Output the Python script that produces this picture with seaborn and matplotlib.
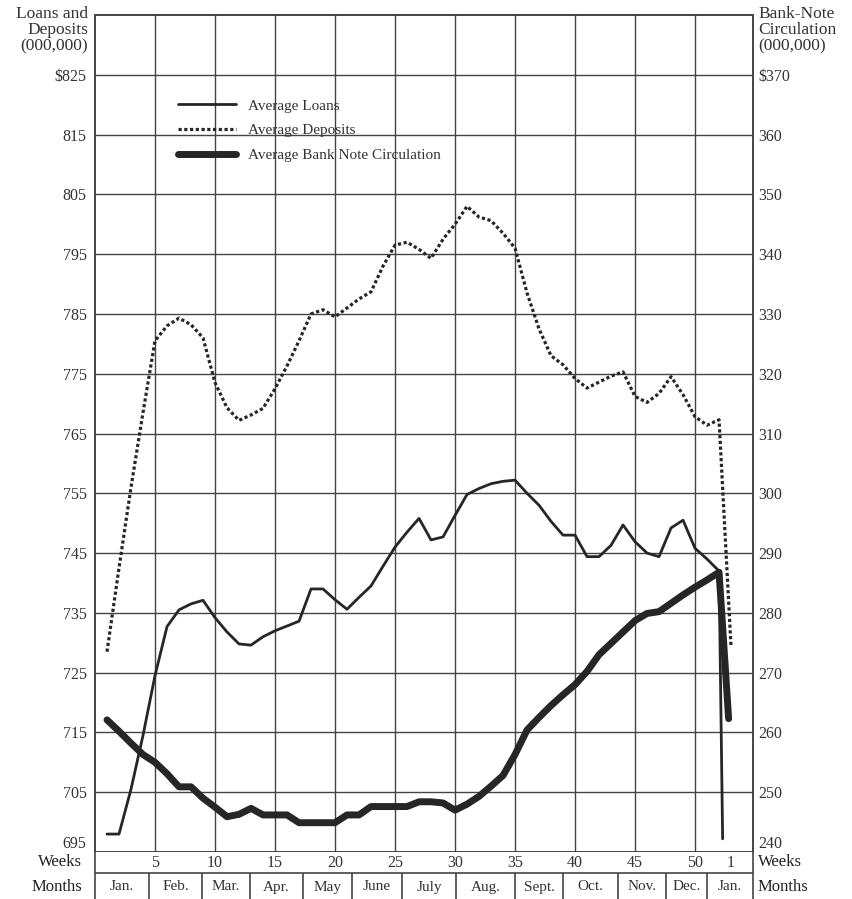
import matplotlib
matplotlib.use("Agg")
import matplotlib.pyplot as plt
import matplotlib.transforms as mtransforms
import pandas as pd
import seaborn as sns

# weekly averages, week 1 .. 52
weeks = list(range(1, 53))

loans = [698, 698, 705.5, 714.5, 724.5, 732.7, 735.5, 736.5, 737.1, 734.2,
         731.8, 729.8, 729.6, 731, 732, 732.8, 733.6, 739, 739, 737.2,
         735.6, 737.6, 739.5, 742.8, 746, 748.5, 750.8, 747.2, 747.7, 751.3,
         754.8, 755.8, 756.6, 757, 757.2, 755, 753, 750.3, 748, 748,
         744.4, 744.4, 746.3, 749.7, 746.9, 745, 744.4, 749.2, 750.5, 745.8,
         744, 742]

deposits = [728.5, 742.5, 756, 768.5, 780.5, 783, 784.3, 783.2, 781, 773.5,
            769.3, 767.2, 768.1, 769.2, 772.5, 776.3, 780.5, 785, 785.7, 784.5,
            786, 787.5, 788.7, 793, 796.5, 797, 795.8, 794.3, 797.5, 800,
            803, 801.2, 800.6, 798.5, 796, 788.5, 782.5, 778, 776.5, 774.2,
            772.6, 773.6, 774.6, 775.3, 771.2, 770.2, 771.7, 774.5, 771.5, 767.8,
            766.4, 767.3]

bank_notes = [262.1, 260.2, 258.2, 256.3, 255, 253.1, 250.9, 250.9, 249, 247.5,
              245.9, 246.3, 247.3, 246.2, 246.2, 246.2, 244.9, 244.9, 244.9, 244.9,
              246.2, 246.2, 247.6, 247.6, 247.6, 247.6, 248.4, 248.4, 248.2, 247,
              248, 249.3, 251, 252.8, 256.3, 260.4, 262.5, 264.5, 266.3, 268,
              270.2, 273, 274.9, 276.8, 278.7, 279.9, 280.2, 281.6, 283, 284.3,
              285.5, 286.8]

# first week of the following January (each line ends a bit differently)
loans_end = (52.3, 697.2)
deposits_end = (53.0, 729.3)
bank_end = (52.8, 262.3)

left_ticks = list(range(695, 826, 10))
right_ticks = list(range(240, 371, 10))
week_ticks = [5, 10, 15, 20, 25, 30, 35, 40, 45, 50]
month_names = ["Jan.", "Feb.", "Mar.", "Apr.", "May", "June", "July", "Aug.",
               "Sept.", "Oct.", "Nov.", "Dec.", "Jan."]
month_edges = [0, 4.5, 8.9, 12.9, 17.3, 21.4, 25.6, 30.1, 35.0, 39.0, 43.6, 47.6, 51.0, 54.83]

df_loans = pd.DataFrame({"week": weeks + [loans_end[0]], "value": loans + [loans_end[1]]})
df_dep = pd.DataFrame({"week": weeks + [deposits_end[0]], "value": deposits + [deposits_end[1]]})
df_bank = pd.DataFrame({"week": weeks + [bank_end[0]], "value": bank_notes + [bank_end[1]]})

sns.set_style("white")
plt.rcParams['font.family'] = ['Liberation Serif', 'DejaVu Serif']

ink = "#262626"
gridc = "#444444"
txt = "#333333"

W, H = 853, 899
def box(x0, y0, x1, y1):
    return [x0 / W, 1 - y1 / H, (x1 - x0) / W, (y1 - y0) / H]

fig = plt.figure(figsize=(W / 100, H / 100), dpi=100)
ax = fig.add_axes(box(95, 15, 753, 852))
ax2 = ax.twinx()
band = fig.add_axes(box(95, 852, 753, 899))

sns.lineplot(data=df_loans, x="week", y="value", ax=ax, color=ink, linewidth=2.0,
             label="Average Loans", legend=False)
sns.lineplot(data=df_dep, x="week", y="value", ax=ax, color=ink, linewidth=2.3,
             linestyle=(0, (1.0, 0.8)), label="Average Deposits", legend=False)
sns.lineplot(data=df_bank, x="week", y="value", ax=ax2, color=ink, linewidth=5.0,
             label="Average Bank Note Circulation", legend=False)

ax.set_xlim(0, 54.83)
ax.set_ylim(695, 835)
ax2.set_ylim(240, 380)

ax.set_xticks(week_ticks)
ax.set_xticklabels([])
ax.set_yticks(left_ticks)
ax.set_yticklabels(["$825" if t == 825 else str(t) for t in left_ticks])
ax2.set_yticks(right_ticks)
ax2.set_yticklabels(["$370" if t == 370 else str(t) for t in right_ticks])
ax.grid(True, color=gridc, linewidth=1.0)
ax.tick_params(axis="both", length=0)
ax.tick_params(axis="y", pad=6, labelsize=11.5, colors=txt)
ax2.tick_params(axis="y", length=0, pad=4, labelsize=11.5, colors=txt)
ax.set_xlabel("")
ax.set_ylabel("")
ax2.set_ylabel("")
for a in (ax, ax2):
    for s in a.spines.values():
        s.set_color(gridc)
        s.set_linewidth(1.2)

# lowest labels sit just above the bottom line, clear of the Weeks row
lift = mtransforms.ScaledTranslation(0, 10 / 100, fig.dpi_scale_trans)
for lab in (ax.get_yticklabels()[0], ax2.get_yticklabels()[0]):
    lab.set_transform(lab.get_transform() + lift)

# legend
handles = ax.get_lines()[:2] + ax2.get_lines()[:1]
ax.legend(handles=handles, labels=[h.get_label() for h in handles],
          loc="upper left", bbox_to_anchor=((178 - 95) / 658, 1 - (99 - 15) / 837),
          frameon=False, borderpad=0, borderaxespad=0, fontsize=11,
          handlelength=3.8, handletextpad=0.75, labelspacing=0.72, labelcolor=txt)

# weeks / months band
band.set_xlim(0, 54.83)
band.set_ylim(47, 0)
band.set_xticks([])
band.set_yticks([])
band.spines["bottom"].set_visible(False)
band.spines["top"].set_visible(False)
for s in ("left", "right"):
    band.spines[s].set_color(gridc)
    band.spines[s].set_linewidth(1.2)
band.axhline(21, color=gridc, linewidth=1.2)
band.vlines(month_edges[1:-1], 21, 47, color=gridc, linewidth=1.2)
for w in week_ticks:
    band.text(w, 11, str(w), ha="center", va="center", fontsize=11.5, color=txt)
band.text(53, 11, "1", ha="center", va="center", fontsize=11.5, color=txt)
for i, name in enumerate(month_names):
    mid = (month_edges[i] + month_edges[i + 1]) / 2
    band.text(mid, 35, name, ha="center", va="center", fontsize=11, color=txt)

def ftext(x, y, s, **kw):
    fig.text(x / W, 1 - y / H, s, **kw)

hdr = dict(fontsize=12.5, color=txt, linespacing=1.0)
ftext(88, 6, "Loans and\nDeposits\n(000,000)", ha="right", va="top", **hdr)
ftext(758, 6, "Bank-Note\nCirculation\n(000,000)", ha="left", va="top", **hdr)
ftext(82, 862, "Weeks", ha="right", va="center", fontsize=12, color="#222222")
ftext(758, 862, "Weeks", ha="left", va="center", fontsize=12, color="#222222")
ftext(82, 887, "Months", ha="right", va="center", fontsize=12, color="#222222")
ftext(758, 887, "Months", ha="left", va="center", fontsize=12, color="#222222")

fig.savefig("out.png", dpi=100)
